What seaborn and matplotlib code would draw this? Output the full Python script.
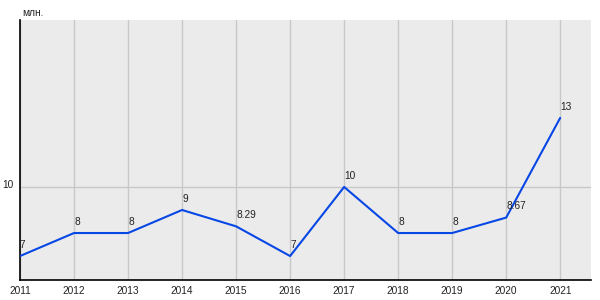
import matplotlib
matplotlib.use("Agg")
import matplotlib.pyplot as plt
import matplotlib.transforms as mtransforms
import seaborn as sns
import pandas as pd

years = [2011, 2012, 2013, 2014, 2015, 2016, 2017, 2018, 2019, 2020, 2021]
values = [7, 8, 8, 9, 8.29, 7, 10, 8, 8, 8.67, 13]
labels = ["7", "8", "8", "9", "8.29", "7", "10", "8", "8", "8.67", "13"]
unit = "млн."

sns.set_style("white")
plt.rcParams['font.family'] = ['Liberation Sans', 'DejaVu Sans']

df = pd.DataFrame({"year": years, "value": values})

fig = plt.figure(figsize=(6, 3), dpi=100)
ax = fig.add_axes([20/600, 20/300, 571/600, 260/300])
ax.set_facecolor("#ebebeb")

sns.lineplot(data=df, x="year", y="value", ax=ax, color="#0747e6", linewidth=1.5, zorder=3)

for x, y, t in zip(years, values, labels):
    ax.annotate(t, (x, y), xytext=(0, 4.5), textcoords="offset points",
                ha="left", va="bottom", fontsize=7.3, color="#222222", zorder=4)

ax.set_xlim(2011, 2021.57)
ax.set_ylim(5.96, 17.25)
ax.set_xticks(years)
ax.set_xticklabels([str(y) for y in years])
ax.set_yticks([10])
ax.set_yticklabels(["10"])
ax.grid(True, color="#c8c8c8", linewidth=1)
ax.set_axisbelow(True)
ax.tick_params(axis="x", length=0, labelsize=7.3, pad=4, colors="#222222")
ax.tick_params(axis="y", length=3, labelsize=7.3, pad=2, colors="#222222", width=0.8)
ax.tick_params(axis="y", color="black")
offset = mtransforms.ScaledTranslation(0, 3/100, fig.dpi_scale_trans)
for lab in ax.get_yticklabels():
    lab.set_transform(lab.get_transform() + offset)
ax.set_xlabel("")
ax.set_ylabel("")
for s in ["top", "right"]:
    ax.spines[s].set_visible(False)
for s in ["left", "bottom"]:
    ax.spines[s].set_color("black")
    ax.spines[s].set_linewidth(1.2)

fig.text(22/600, 1 - 13/300, unit, fontsize=7.3, color="#222222", va="center", ha="left")

fig.savefig("out.png", dpi=100)
